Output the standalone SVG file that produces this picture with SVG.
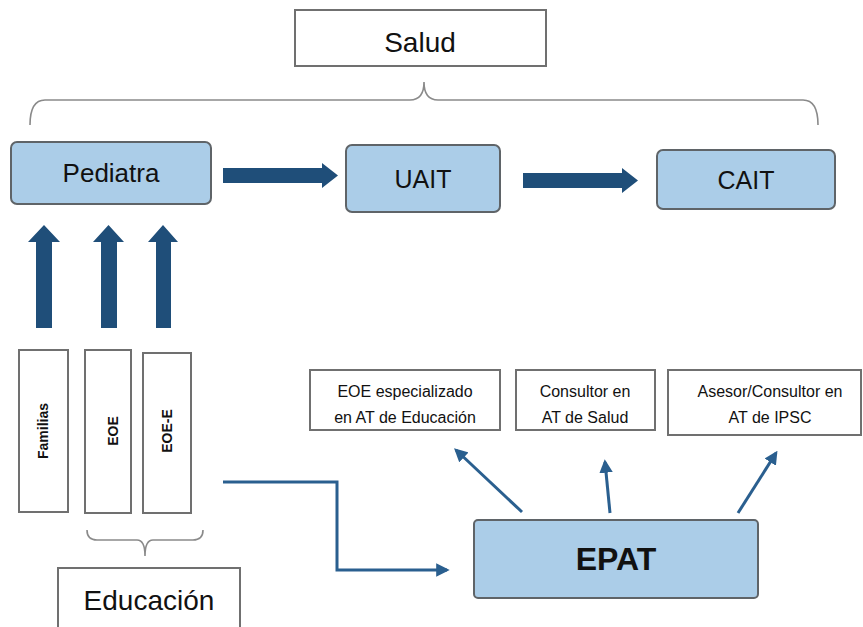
<svg xmlns="http://www.w3.org/2000/svg" width="863" height="627" viewBox="0 0 863 627">
<defs>
<style>
.lbl{font-family:"Liberation Sans",Arial,sans-serif;fill:#111;text-anchor:middle}
.blue{fill:#abcde8;stroke:#5f6468;stroke-width:2}
.white{fill:#fff;stroke:#707070;stroke-width:2}
.brace{fill:none;stroke:#8a8a8a;stroke-width:1.6}
.block{fill:#1f4e79}
.conn{fill:none;stroke:#2a5f8f;stroke-width:3}
</style>
<marker id="ah" viewBox="0 0 10 10" refX="8" refY="5" markerWidth="4.5" markerHeight="4.5" orient="auto" markerUnits="strokeWidth">
<path d="M0,0 L10,5 L0,10 z" fill="#2a5f8f"/>
</marker>
</defs>
<rect width="863" height="627" fill="#fff"/>

<g id="salud">
<rect class="white" x="295" y="10" width="251" height="56"/>
<text class="lbl" x="420" y="52" font-size="28">Salud</text>
</g>
<path class="brace" d="M30,125 Q30,100 45,100 L410,100 Q424,100 424,82 Q424,100 438,100 L803,100 Q818,100 818,125"/>

<g id="pediatra">
<rect class="blue" x="11" y="142" width="200" height="62" rx="6"/>
<text class="lbl" x="111" y="182" font-size="26">Pediatra</text>
</g>
<g id="uait">
<rect class="blue" x="346" y="145" width="154" height="67" rx="6"/>
<text class="lbl" x="423" y="188" font-size="25">UAIT</text>
</g>
<g id="cait">
<rect class="blue" x="657" y="150" width="178" height="59" rx="6"/>
<text class="lbl" x="746" y="189" font-size="25">CAIT</text>
</g>

<g id="familias">
<rect class="white" x="19" y="350" width="49" height="162"/>
<text class="lbl" transform="translate(48,431) rotate(-90)" font-size="14" font-weight="bold">Familias</text>
</g>
<g id="eoe">
<rect class="white" x="85" y="350" width="46" height="163"/>
<text class="lbl" transform="translate(118,431) rotate(-90)" font-size="14" font-weight="bold">EOE</text>
</g>
<g id="eoe-e">
<rect class="white" x="143" y="353" width="48" height="160"/>
<text class="lbl" transform="translate(172,431) rotate(-90)" font-size="14" font-weight="bold">EOE-E</text>
</g>
<path class="brace" d="M87,530 Q87,540 97,540 L137,540 Q145,540 145,556 Q145,540 153,540 L193,540 Q203,540 203,530"/>

<g id="educacion">
<rect class="white" x="58" y="568" width="182" height="70"/>
<text class="lbl" x="149" y="610" font-size="28">Educación</text>
</g>

<g id="epat">
<rect class="blue" x="474" y="520" width="284" height="78" rx="4"/>
<text class="lbl" x="616" y="570" font-size="32" font-weight="bold">EPAT</text>
</g>
<g id="eoe-esp">
<rect class="white" x="310" y="370" width="190" height="60"/>
<text class="lbl" x="405" y="397" font-size="16">EOE especializado</text>
<text class="lbl" x="405" y="423" font-size="16">en AT de Educación</text>
</g>
<g id="consultor-salud">
<rect class="white" x="516" y="370" width="139" height="60"/>
<text class="lbl" x="585" y="397" font-size="16">Consultor en</text>
<text class="lbl" x="585" y="423" font-size="16">AT de Salud</text>
</g>
<g id="asesor-ipsc">
<rect class="white" x="668" y="370" width="193" height="65"/>
<text class="lbl" x="770" y="397" font-size="16">Asesor/Consultor en</text>
<text class="lbl" x="770" y="423" font-size="16">AT de IPSC</text>
</g>

<g id="connectors">
<path class="block" d="M223,168 H322 V163 L338,175.5 L322,188 V183 H223 Z"/>
<path class="block" d="M523,173 H622 V168 L638,180.5 L622,193 V188 H523 Z"/>
<path class="block" d="M36,328 V242 H28 L44,225 L60,242 H52 V328 Z"/>
<path class="block" d="M101,328 V242 H93 L108.5,225 L124,242 H117 V328 Z"/>
<path class="block" d="M156,328 V242 H148 L163,225 L178,242 H171 V328 Z"/>
<path class="conn" d="M223,482 H337 V570 H447" marker-end="url(#ah)"/>
<path class="conn" d="M522,512 L456,450" marker-end="url(#ah)"/>
<path class="conn" d="M610,513 L605,462" marker-end="url(#ah)"/>
<path class="conn" d="M738,513 L776,453" marker-end="url(#ah)"/>
</g>
</svg>
